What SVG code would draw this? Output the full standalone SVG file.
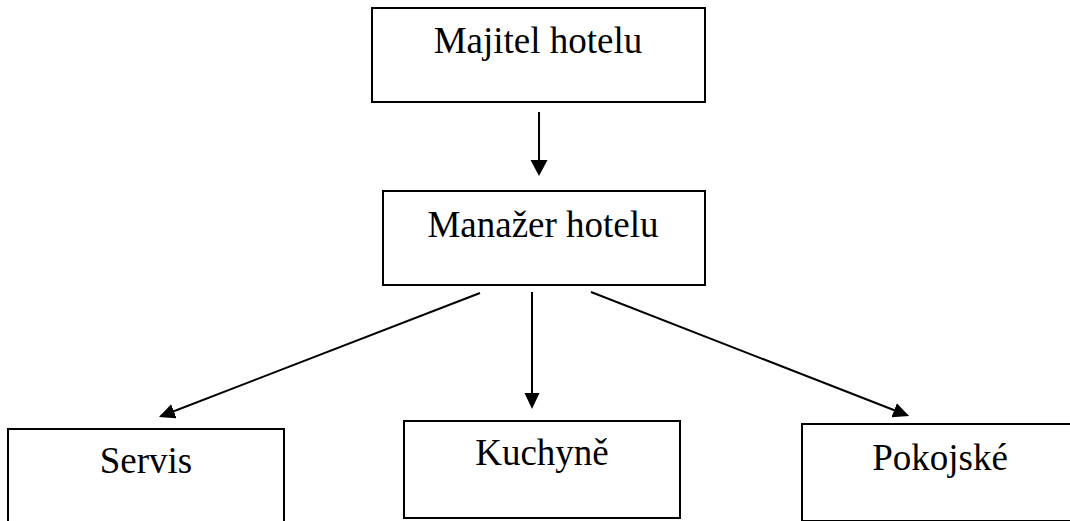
<svg xmlns="http://www.w3.org/2000/svg" width="1070" height="521" viewBox="0 0 1070 521">
<defs>
<style>
.box{fill:#fff;stroke:#000;stroke-width:2}
.lbl{font-family:"Liberation Serif","Times New Roman",serif;font-size:37px;fill:#000;text-anchor:middle}
.con{stroke:#000;stroke-width:2;fill:none}
</style>
<marker id="ahBig" markerUnits="userSpaceOnUse" markerWidth="18" markerHeight="18" refX="14" refY="8.5" orient="auto">
<path d="M0,0 L16,8.5 L0,17 z" fill="#000"/>
</marker>
<marker id="ah" markerUnits="userSpaceOnUse" markerWidth="18" markerHeight="16" refX="14" refY="7.5" orient="auto">
<path d="M0,0 L16,7.5 L0,15 z" fill="#000"/>
</marker>
</defs>
<rect width="1070" height="521" fill="#fff"/>
<g id="connectors">
<line class="con" x1="539" y1="112" x2="539" y2="174" marker-end="url(#ahBig)"/>
<line class="con" x1="480" y1="293" x2="160.8" y2="416.3" marker-end="url(#ah)"/>
<line class="con" x1="532" y1="292" x2="532" y2="407" marker-end="url(#ah)"/>
<line class="con" x1="591" y1="292" x2="907.2" y2="415.3" marker-end="url(#ah)"/>
</g>
<g id="majitel">
<rect class="box" x="372" y="8" width="333" height="94"/>
<text class="lbl" x="538" y="53">Majitel hotelu</text>
</g>
<g id="manazer">
<rect class="box" x="383" y="191" width="322" height="94"/>
<text class="lbl" x="543" y="237">Manažer hotelu</text>
</g>
<g id="servis">
<rect class="box" x="8" y="429" width="276" height="97"/>
<text class="lbl" x="146" y="473">Servis</text>
</g>
<g id="kuchyne">
<rect class="box" x="404" y="421" width="276" height="97"/>
<text class="lbl" x="542" y="465">Kuchyně</text>
</g>
<g id="pokojske">
<rect class="box" x="802" y="424" width="276" height="97"/>
<text class="lbl" x="940" y="470">Pokojské</text>
</g>
</svg>
